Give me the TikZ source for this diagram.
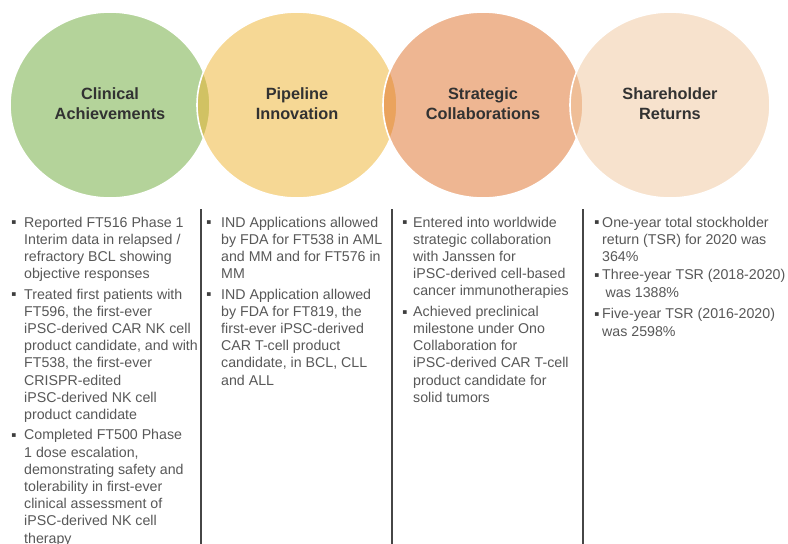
\documentclass[tikz,border=0pt]{standalone}
\usepackage{fontspec}
\setmainfont{Liberation Sans}
\newfontfamily\symfont{DejaVu Sans}
\usetikzlibrary{shapes.geometric}
\definecolor{cgreen}{RGB}{107,169,55}
\definecolor{cyellow}{RGB}{239,179,45}
\definecolor{corange}{RGB}{223,111,39}
\definecolor{cpeach}{RGB}{241,199,157}
\definecolor{titletxt}{RGB}{50,50,50}
\definecolor{bodytxt}{RGB}{88,88,88}
\definecolor{divider}{RGB}{70,70,70}
\tikzset{
  venn/.style={ellipse, draw=white, line width=1.6pt, fill opacity=0.5, draw opacity=1,
    minimum width=200pt, minimum height=186pt, inner sep=0pt, outer sep=0pt},
  vtitle/.style={anchor=base, font=\fontsize{16.3}{20}\selectfont\bfseries, text=titletxt, inner sep=0pt},
  itemtext/.style={anchor=base west, font=\fontsize{14.2}{17.2}\selectfont, text=bodytxt, inner sep=0pt},
  bulletmark/.style={anchor=center, font=\symfont\fontsize{7.5}{8}\selectfont, text=bodytxt!70!black, inner sep=0pt},
  divline/.style={draw=divider, line width=1.8pt},
}
\newcommand{\lines}[1]{\begin{tabular}[t]{@{}l@{}}#1\end{tabular}}
\newcommand{\clines}[1]{\begin{tabular}[t]{@{}c@{}}#1\end{tabular}}
\begin{document}
\begin{tikzpicture}[x=1pt,y=-1pt]
\useasboundingbox (0,0) rectangle (788,544);
\clip (0,0) rectangle (788,544);
\fill[white] (0,0) rectangle (788,544);

% circles
\node[venn, fill=cgreen]  (c1) at (110,105) {};
\node[venn, fill=cyellow] (c2) at (297,105) {};
\node[venn, fill=corange] (c3) at (483,105) {};
\node[venn, fill=cpeach]  (c4) at (670,105) {};

% circle titles
\node[vtitle] (t1) at (110,99) {\clines{Clinical\\Achievements}};
\node[vtitle] (t2) at (297,99) {\clines{Pipeline\\Innovation}};
\node[vtitle] (t3) at (483,99) {\clines{Strategic\\Collaborations}};
\node[vtitle] (t4) at (670,99) {\clines{Shareholder\\Returns}};

% dividers
\coordinate (d1t) at (201,209); \coordinate (d1b) at (201,546);
\coordinate (d2t) at (392,209); \coordinate (d2b) at (392,546);
\coordinate (d3t) at (583,209); \coordinate (d3b) at (583,546);
\draw[divline] (d1t) -- (d1b);
\draw[divline] (d2t) -- (d2b);
\draw[divline] (d3t) -- (d3b);

% column 1
\node[bulletmark] (b11) at (14,223) {▪};
\node[itemtext] (i11) at (24,227) {\lines{Reported FT516 Phase 1\\Interim data in relapsed /\\refractory BCL showing\\objective responses}};
\node[bulletmark] (b12) at (14,295) {▪};
\node[itemtext] (i12) at (24,299) {\lines{Treated first patients with\\FT596, the first-ever\\iPSC-derived CAR NK cell\\product candidate, and with\\FT538, the first-ever\\CRISPR-edited\\iPSC-derived NK cell\\product candidate}};
\node[bulletmark] (b13) at (14,435.8) {▪};
\node[itemtext] (i13) at (24,439.8) {\lines{Completed FT500 Phase\\1 dose escalation,\\demonstrating safety and\\tolerability in first-ever\\clinical assessment of\\iPSC-derived NK cell\\therapy}};

% column 2
\node[bulletmark] (b21) at (209,223) {▪};
\node[itemtext] (i21) at (221,227) {\lines{IND Applications allowed\\by FDA for FT538 in AML\\and MM and for FT576 in\\MM}};
\node[bulletmark] (b22) at (209,295) {▪};
\node[itemtext] (i22) at (221,299) {\lines{IND Application allowed\\by FDA for FT819, the\\first-ever iPSC-derived\\CAR T-cell product\\candidate, in BCL, CLL\\and ALL}};

% column 3
\node[bulletmark] (b31) at (405,223) {▪};
\node[itemtext] (i31) at (413,227) {\lines{Entered into worldwide\\strategic collaboration\\with Janssen for\\iPSC-derived cell-based\\cancer immunotherapies}};
\node[bulletmark] (b32) at (405,312.2) {▪};
\node[itemtext] (i32) at (413,316.2) {\lines{Achieved preclinical\\milestone under Ono\\Collaboration for\\iPSC-derived CAR T-cell\\product candidate for\\solid tumors}};

% column 4
\node[bulletmark] (b41) at (597,223) {▪};
\node[itemtext] (i41) at (602,227) {\lines{One-year total stockholder\\return (TSR) for 2020 was\\364\%}};
\node[bulletmark] (b42) at (597,275.8) {▪};
\node[itemtext] (i42) at (602,279.8) {\lines{Three-year TSR (2018-2020)\\\hspace{3.5pt}was 1388\%}};
\node[bulletmark] (b43) at (597,314.8) {▪};
\node[itemtext] (i43) at (602,318.8) {\lines{Five-year TSR (2016-2020)\\was 2598\%}};
\end{tikzpicture}
\end{document}
